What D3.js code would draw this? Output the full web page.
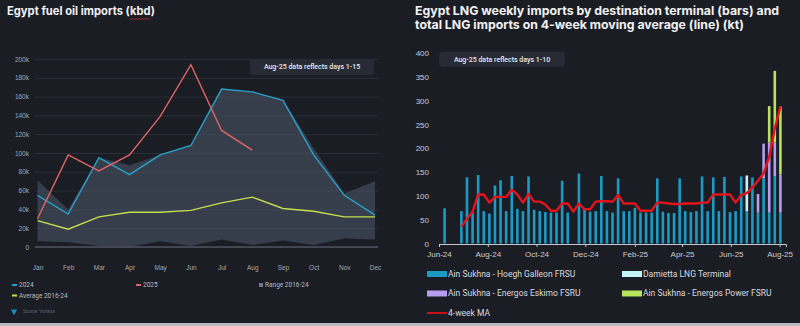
<!DOCTYPE html>
<html>
<head>
<meta charset="utf-8">
<script src="https://cdn.jsdelivr.net/npm/d3@7"></script>
<style>
  html, body { margin: 0; padding: 0; background: #1b1d24; }
  svg { display: block; }
</style>
</head>
<body>
<div id="chart"></div>
<script>
// ---- left chart: fuel oil imports (kbd, thousands) ----
const months = ['Jan', 'Feb', 'Mar', 'Apr', 'May', 'Jun', 'Jul', 'Aug', 'Sep', 'Oct', 'Nov', 'Dec'];
const fuel2024 = [55, 35, 95, 77, 98, 108, 168, 165, 156, 98, 55, 34];
const fuel2025 = [30, 98, 81, 98, 139, 194, 124, 103];
const fuelAvg = [28, 19, 32, 37, 37, 39, 47, 53, 41, 38, 32, 32];
const rangeHigh = [71, 40, 95, 87, 98, 108, 168, 165, 157, 105, 57, 70];
const rangeLow = [6, 5, 1, 0, 6, 1, 8, 2, 7, 2, 9, 8];
const fuelTicks = [0, 20, 40, 60, 80, 100, 120, 140, 160, 180, 200];

// ---- right chart: LNG weekly imports (kt) ----
const firstWeek = new Date(2024, 5, 8);
const hoegh = [74, 0, 0, 68, 139, 65, 144, 68, 63, 122, 133, 68, 142, 73, 68, 141, 71, 68, 66, 65,
  65, 132, 65, 0, 147, 75, 67, 68, 142, 68, 65, 137, 68, 68, 75, 65, 65, 65, 137, 67,
  64, 64, 137, 68, 66, 68, 141, 68, 139, 68, 140, 66, 68, 141, 68, 139, 65, 137, 65, 142, 65];
const damietta = Array(54).fill(0).concat([75, 0, 0, 0, 0, 0, 0]);
const eskimo = Array(56).fill(0).concat([39, 73, 147, 70, 80]);
const power = Array(58).fill(0).concat([77, 151, 143]);
const movingAvg = [null, null, null, 35, 52, 67, 103, 103, 86, 98, 98, 98, 113, 103, 86, 104, 88, 88, 82, 69,
  69, 84, 84, 67, 84, 72, 72, 88, 89, 89, 88, 102, 84, 84, 84, 69, 69, 69, 86, 86,
  84, 83, 83, 84, 84, 84, 86, 86, 103, 103, 103, 103, 86, 102, 106, 118, 132, 147, 182, 242, 288];
const lngTicks = [0, 50, 100, 150, 200, 250, 300, 350, 400];

const terminals = [
  { key: 'hoegh', label: 'Ain Sukhna - Hoegh Galleon FRSU', color: '#1d9ac4' },
  { key: 'damietta', label: 'Damietta LNG Terminal', color: '#c2f3f9' },
  { key: 'eskimo', label: 'Ain Sukhna - Energos Eskimo FSRU', color: '#b59df0' },
  { key: 'power', label: 'Ain Sukhna - Energos Power FSRU', color: '#b6e35a' }
];

const W = 800, H = 326;
const svg = d3.select('#chart').append('svg')
  .attr('width', W).attr('height', H)
  .attr('font-family', 'Roboto, "Noto Sans", sans-serif');

svg.append('rect').attr('width', W).attr('height', H).attr('fill', '#1b1d24');
svg.append('rect').attr('y', 323).attr('width', W).attr('height', 3).attr('fill', '#b9babd');

drawFuel(svg.append('g'));
drawLng(svg.append('g'));

function drawFuel(g) {
  const x = d3.scalePoint().domain(months).range([37.5, 375]);
  const y = d3.scaleLinear().domain([0, 200]).range([247, 59]);

  const title = g.append('text')
    .attr('x', 7).attr('y', 14.5)
    .attr('font-family', 'Inter, sans-serif').attr('font-weight', 700)
    .attr('font-size', '11.2px').attr('fill', '#f2f2f2')
    .text('Egypt fuel oil imports (kbd)');
  squiggle(g, title, 'kbd', 18.5);

  // gridlines + labels
  g.append('g')
    .attr('transform', 'translate(35,0)')
    .call(d3.axisLeft(y).tickValues(fuelTicks).tickSize(-343).tickPadding(6)
      .tickFormat(d => d === 0 ? '0' : d + 'k'))
    .call(a => a.select('.domain').remove())
    .call(a => a.selectAll('line').attr('stroke', '#2a2e38'))
    .call(a => a.selectAll('text').attr('font-size', '6.5px').attr('fill', '#a4a8b0'));

  g.append('line')
    .attr('x1', 35).attr('x2', 378).attr('y1', y(0)).attr('y2', y(0))
    .attr('stroke', '#4d525e').attr('stroke-width', 1.5);

  g.append('g')
    .attr('transform', 'translate(0,262)')
    .call(d3.axisBottom(x).tickSize(0))
    .call(a => a.select('.domain').remove())
    .call(a => a.selectAll('text').attr('font-size', '6.5px').attr('fill', '#a4a8b0'));

  const area = d3.area()
    .x((d, i) => x(months[i]))
    .y0((d, i) => y(rangeLow[i]))
    .y1(d => y(d));
  g.append('path').datum(rangeHigh)
    .attr('d', area).attr('fill', '#4a5568').attr('fill-opacity', 0.6);

  const line = d3.line().x((d, i) => x(months[i])).y(d => y(d));
  const series = [
    { values: fuelAvg, color: '#c3de4e' },
    { values: fuel2024, color: '#2aa0c9' },
    { values: fuel2025, color: '#e06464' }
  ];
  g.selectAll('path.series').data(series).join('path')
    .attr('class', 'series')
    .attr('d', d => line(d.values))
    .attr('fill', 'none').attr('stroke', d => d.color).attr('stroke-width', 1.4);

  note(g, 250, 59, 124, 16, 'Aug-25 data reflects days 1-15');

  // legend
  const items = [
    { label: '2024', color: '#2aa0c9', x: 12, y: 285, kind: 'line' },
    { label: '2025', color: '#e06464', x: 136, y: 285, kind: 'line' },
    { label: 'Range 2016-24', color: '#6b7890', x: 259, y: 285, kind: 'box' },
    { label: 'Average 2016-24', color: '#c3de4e', x: 12, y: 295.5, kind: 'line' }
  ];
  const lg = g.selectAll('g.leg').data(items).join('g')
    .attr('class', 'leg').attr('transform', d => `translate(${d.x},${d.y})`);
  lg.append('rect')
    .attr('x', 0).attr('y', d => d.kind === 'box' ? -2 : -1)
    .attr('width', d => d.kind === 'box' ? 4 : 5).attr('height', d => d.kind === 'box' ? 4 : 2)
    .attr('fill', d => d.color);
  lg.append('text')
    .attr('x', d => d.kind === 'box' ? 6 : 7).attr('dy', '0.35em')
    .attr('font-size', '6.5px').attr('fill', '#b8bcc4')
    .text(d => d.label);

  // source
  g.append('path')
    .attr('d', 'M11.5,309.5 L14,314 L16.5,309.5 M13,309.5 L14,311.5 L15,309.5')
    .attr('fill', 'none').attr('stroke', '#1d9ac4').attr('stroke-width', 1.1);
  g.append('text')
    .attr('x', 23).attr('y', 313)
    .attr('font-size', '4.5px').attr('fill', '#5d626c')
    .text('Source: Vortexa');
}

function drawLng(g) {
  const weeks = d3.timeDay.range(firstWeek, new Date(2025, 7, 3), 7);
  const table = weeks.map((d, i) => ({
    date: d, hoegh: hoegh[i], damietta: damietta[i], eskimo: eskimo[i], power: power[i]
  }));
  const x = d3.scaleTime().domain([new Date(2024, 5, 1), new Date(2025, 7, 9)]).range([439, 786]);
  const y = d3.scaleLinear().domain([0, 400]).range([243.5, 53.3]);

  g.selectAll('text.title')
    .data(['Egypt LNG weekly imports by destination terminal (bars) and',
      'total LNG imports on 4-week moving average (line) (kt)'])
    .join('text')
    .attr('class', 'title')
    .attr('x', 415).attr('y', (d, i) => 15 + i * 14)
    .attr('font-family', 'Inter, sans-serif').attr('font-weight', 700)
    .attr('font-size', '12.3px').attr('fill', '#f2f2f2')
    .text(d => d);

  g.append('g')
    .attr('transform', 'translate(432,0)')
    .call(d3.axisLeft(y).tickValues(lngTicks).tickSize(0).tickPadding(3))
    .call(a => a.select('.domain').remove())
    .call(a => a.selectAll('text').attr('font-size', '8px').attr('fill', '#c9ccd2'));

  const stack = d3.stack().keys(terminals.map(t => t.key))(table);
  const color = d3.scaleOrdinal().domain(terminals.map(t => t.key)).range(terminals.map(t => t.color));
  const bw = 2.6;
  g.selectAll('g.layer').data(stack).join('g')
    .attr('class', 'layer').attr('fill', d => color(d.key))
    .selectAll('rect').data(d => d.filter(v => v[1] > v[0])).join('rect')
    .attr('x', d => x(d.data.date) - bw / 2)
    .attr('width', bw)
    .attr('y', d => y(d[1]))
    .attr('height', d => y(d[0]) - y(d[1]));

  g.append('g')
    .attr('transform', 'translate(0,244)')
    .call(d3.axisBottom(x)
      .tickValues(d3.timeMonth.range(new Date(2024, 5, 1), new Date(2025, 7, 2), 2))
      .tickFormat(d3.timeFormat('%b-%y')).tickSize(3).tickSizeOuter(3).tickPadding(4))
    .call(a => a.select('.domain').attr('stroke', '#c4c6cc'))
    .call(a => a.selectAll('line').attr('stroke', '#c4c6cc'))
    .call(a => a.selectAll('text').attr('font-size', '8px').attr('fill', '#c9ccd2'));

  const line = d3.line()
    .defined(d => d != null)
    .x((d, i) => x(weeks[i]))
    .y(d => y(d));
  g.append('path').datum(movingAvg)
    .attr('d', line)
    .attr('fill', 'none').attr('stroke', '#e3141c').attr('stroke-width', 2.4)
    .attr('stroke-linejoin', 'round');

  note(g, 439, 51.7, 126, 15, 'Aug-25 data reflects days 1-10');

  // legend
  const items = terminals.map((t, i) => ({
    label: t.label, color: t.color, x: i % 2 ? 622 : 427, y: i < 2 ? 274 : 293.5, kind: 'box'
  }));
  items.push({ label: '4-week MA', color: '#c8101a', x: 427, y: 313, kind: 'line' });
  const lg = g.selectAll('g.leg').data(items).join('g')
    .attr('class', 'leg').attr('transform', d => `translate(${d.x},${d.y})`);
  lg.append('rect')
    .attr('y', d => d.kind === 'box' ? -3 : -1)
    .attr('width', 20).attr('height', d => d.kind === 'box' ? 6 : 2)
    .attr('fill', d => d.color);
  lg.append('text')
    .attr('x', 21).attr('dy', '0.35em')
    .attr('font-size', '8.5px').attr('fill', '#d8dade')
    .text(d => d.label);
}

function note(g, x, y, w, h, label) {
  g.append('rect')
    .attr('x', x).attr('y', y).attr('width', w).attr('height', h)
    .attr('rx', 4).attr('fill', '#272b35');
  g.append('text')
    .attr('x', x + w / 2).attr('y', y + h / 2).attr('dy', '0.35em')
    .attr('text-anchor', 'middle')
    .attr('font-size', '7px').attr('font-weight', 500).attr('fill', '#e6e7ea')
    .text(label);
}

// red spell-check squiggle under a word of a title
function squiggle(g, textSel, word, yy) {
  const node = textSel.node();
  const i = node.textContent.indexOf(word);
  const x0 = 7 + node.getSubStringLength(0, i);
  const x1 = x0 + node.getSubStringLength(i, word.length);
  const pts = d3.range(x0, x1, 1.5).map((px, k) => [px, yy + (k % 2 ? 1 : 0)]);
  g.append('path').attr('d', d3.line()(pts))
    .attr('fill', 'none').attr('stroke', '#e0302a').attr('stroke-width', 0.7);
}
</script>
</body>
</html>
